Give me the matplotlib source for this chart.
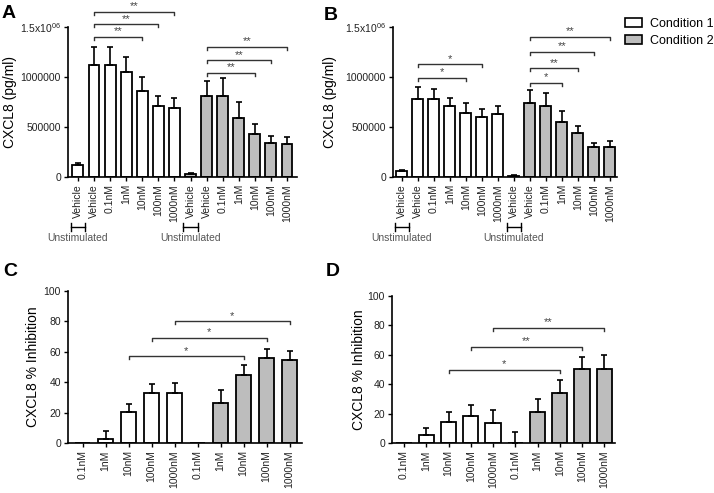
import numpy as np
import matplotlib
matplotlib.use("Agg")
import matplotlib.pyplot as plt
from matplotlib.patches import Patch
from matplotlib.transforms import blended_transform_factory

plt.rcParams['font.family'] = ['Liberation Sans', 'DejaVu Sans']
plt.rcParams['mathtext.fontset'] = 'custom'
plt.rcParams['mathtext.rm'] = 'Liberation Sans'

# ---------------------------------------------------------------------------
# data
# ---------------------------------------------------------------------------
labels_ab = ['Vehicle', 'Vehicle', '0.1nM', '1nM', '10nM', '100nM', '1000nM']
labels_cd = ['0.1nM', '1nM', '10nM', '100nM', '1000nM']

a_cond1 = [123000, 1117000, 1117000, 1047000, 863000, 713000, 693000]
a_cond1_err = [20000, 183000, 186000, 153000, 137000, 97000, 97000]
a_cond2 = [30000, 810000, 810000, 590000, 430000, 337000, 333000]
a_cond2_err = [10000, 153000, 180000, 157000, 97000, 73000, 67000]

b_cond1 = [57000, 780000, 780000, 707000, 643000, 597000, 627000]
b_cond1_err = [10000, 120000, 103000, 86000, 94000, 83000, 80000]
b_cond2 = [12000, 737000, 713000, 550000, 437000, 297000, 303000]
b_cond2_err = [8000, 130000, 127000, 107000, 76000, 43000, 57000]

c_cond1 = [0, 3, 20.5, 33, 33]
c_cond1_err = [0, 5, 5.3, 5.8, 6.5]
c_cond2 = [0, 26.5, 45, 56, 54.4]
c_cond2_err = [0, 8.5, 6.5, 5.8, 5.8]

d_cond1 = [0, 5.4, 14.2, 18.5, 13.5]
d_cond1_err = [0, 5.2, 6.8, 7.2, 8.8]
d_cond2 = [0.5, 21.4, 34, 50.1, 50.1]
d_cond2_err = [7, 8.6, 8.8, 8.6, 9.9]

# significance brackets: (from bar, to bar, height, stars)
a_sig = [(1, 6, 1653000, '**'), (1, 5, 1530000, '**'), (1, 4, 1403000, '**'),
         (8, 13, 1303000, '**'), (8, 12, 1170000, '**'), (8, 11, 1043000, '**')]
b_sig = [(1, 5, 1127000, '*'), (1, 4, 993000, '*'),
         (8, 13, 1403000, '**'), (8, 12, 1253000, '**'), (8, 11, 1087000, '**'),
         (8, 10, 943000, '*')]
c_sig = [(4, 9, 80, '*'), (3, 8, 69.2, '*'), (2, 7, 57.2, '*')]
d_sig = [(4, 9, 78.4, '**'), (3, 8, 65.5, '**'), (2, 7, 49.8, '*')]

GREY = '#bdbdbd'
TICK_FS = 7.5


def draw_bars(ax, v1, e1, v2, e2, labels, ymax, xlim):
    n = len(v1)
    x1 = np.arange(n)
    x2 = np.arange(n, 2 * n)
    ax.bar(x1, v1, width=0.68, color='white', edgecolor='black', linewidth=1.3, zorder=2)
    ax.bar(x2, v2, width=0.68, color=GREY, edgecolor='black', linewidth=1.3, zorder=2)
    xs = np.concatenate([x1, x2])
    vs = np.array(v1 + v2, dtype=float)
    es = np.array(e1 + e2, dtype=float)
    m = es > 0
    ax.errorbar(xs[m], vs[m], yerr=[np.zeros(m.sum()), es[m]], fmt='none',
                ecolor='black', elinewidth=1.2, capsize=2.3, capthick=1.2, zorder=3)
    ax.set_xlim(*xlim)
    ax.set_ylim(0, ymax)
    ax.set_xticks(xs)
    ax.set_xticklabels(labels * 2, rotation=90, fontsize=TICK_FS, color='#222')
    ax.spines['top'].set_visible(False)
    ax.spines['right'].set_visible(False)
    for s in ('left', 'bottom'):
        ax.spines[s].set_linewidth(1.2)
    ax.tick_params(direction='out', length=3, width=1.0, labelsize=TICK_FS,
                   labelcolor='#222', pad=2)


def draw_sig(ax, sig, ymax):
    tick = 0.02 * ymax
    for a, b, y, stars in sig:
        ax.plot([a, a, b, b], [y - tick, y, y, y - tick], color='#333', lw=1.0,
                clip_on=False, zorder=4)
        ax.annotate(stars, xy=((a + b) / 2, y), xytext=(0, 3.8), textcoords='offset points',
                    ha='center', va='center', fontsize=8, color='#444',
                    annotation_clip=False)


def draw_unstim(ax, positions):
    trans = blended_transform_factory(ax.transData, ax.transAxes)
    for p in positions:
        ax.plot([p - 0.45, p + 0.45], [-0.333, -0.333], color='black', lw=1.0,
                transform=trans, clip_on=False)
        for e in (p - 0.45, p + 0.45):
            ax.plot([e, e], [-0.357, -0.309], color='black', lw=1.0,
                    transform=trans, clip_on=False)
        ax.text(p, -0.41, 'Unstimulated', transform=trans, ha='center', va='center',
                fontsize=TICK_FS, color='#555')


fig = plt.figure(figsize=(7.14, 4.93), dpi=100)
ax_a = fig.add_axes([0.0952, 0.641, 0.3207, 0.3043])
ax_b = fig.add_axes([0.5504, 0.641, 0.3137, 0.3043])
ax_c = fig.add_axes([0.0952, 0.1008, 0.3277, 0.3095])
ax_d = fig.add_axes([0.549, 0.1008, 0.3123, 0.2994])

yt_ab = [0, 500000, 1000000, 1500000]
yt_ab_labels = ['0', '500000', '1000000', r'1.5x10$^{06}$']

for ax, v1, e1, v2, e2, sig, xlim in [
        (ax_a, a_cond1, a_cond1_err, a_cond2, a_cond2_err, a_sig, (-0.62, 13.62)),
        (ax_b, b_cond1, b_cond1_err, b_cond2, b_cond2_err, b_sig, (-0.55, 13.45))]:
    draw_bars(ax, v1, e1, v2, e2, labels_ab, 1500000, xlim)
    ax.set_yticks(yt_ab)
    ax.set_yticklabels(yt_ab_labels)
    ax.set_ylabel('CXCL8 (pg/ml)', fontsize=10)
    draw_sig(ax, sig, 1500000)
    draw_unstim(ax, [0, 7])

ax_a.yaxis.set_label_coords(-0.223, 0.5)
ax_b.yaxis.set_label_coords(-0.25, 0.5)

for ax, v1, e1, v2, e2, sig, xlim in [
        (ax_c, c_cond1, c_cond1_err, c_cond2, c_cond2_err, c_sig, (-0.64, 9.54)),
        (ax_d, d_cond1, d_cond1_err, d_cond2, d_cond2_err, d_sig, (-0.54, 9.48))]:
    draw_bars(ax, v1, e1, v2, e2, labels_cd, 100, xlim)
    ax.set_yticks([0, 20, 40, 60, 80, 100])
    ax.set_ylabel('CXCL8 % Inhibition', fontsize=10)
    draw_sig(ax, sig, 100)

ax_c.yaxis.set_label_coords(-0.12, 0.5)
ax_d.yaxis.set_label_coords(-0.117, 0.5)

# legend
handles = [Patch(facecolor='white', edgecolor='black', linewidth=1.2, label='Condition 1'),
           Patch(facecolor=GREY, edgecolor='black', linewidth=1.2, label='Condition 2')]
fig.legend(handles=handles, loc='upper left', bbox_to_anchor=(0.875, 0.963),
           frameon=False, fontsize=9, handlelength=1.4, handleheight=0.7,
           labelspacing=0.4, handletextpad=0.6, borderaxespad=0, borderpad=0)

# panel letters
for letter, x, y in [('A', 9, 14), ('B', 331, 15), ('C', 10, 271), ('D', 333, 271)]:
    fig.text(x / 714, 1 - y / 493, letter, fontsize=14, fontweight='bold',
             ha='center', va='center')

fig.savefig('out.png', dpi=100)
